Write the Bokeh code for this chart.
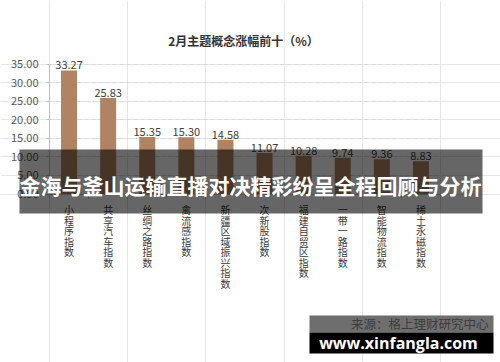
from bokeh.plotting import figure
from bokeh.models import (Range1d, FixedTicker, Label, BoxAnnotation, NumeralTickFormatter,
                          LinearAxis, Grid)
from bokeh.core.properties import value
from bokeh.embed import file_html
from bokeh.resources import INLINE
import numpy as np

title_text = "2月主题概念涨幅前十（%）"
categories = ["小程序指数", "共享汽车指数", "丝绸之路指数", "禽流感指数", "新疆区域振兴指数",
              "次新股指数", "福建自贸区指数", "一带一路指数", "智能物流指数", "稀土永磁指数"]
values = [33.27, 25.83, 15.35, 15.30, 14.58, 11.07, 10.28, 9.74, 9.36, 8.83]
y_ticks = [0, 5, 10, 15, 20, 25, 30, 35]
banner_text = "金海与釜山运输直播对决精彩纷呈全程回顾与分析"
source_text = "来源：格上理财研究中心"
site_text = "www.xinfangla.com"

CJK = "Noto Sans CJK SC"
W, H = 500, 362

# pixel placement of the plotting area inside the canvas
L, R, T, B = 49.0, 440.0, 63.5, 193.5
n = len(categories)
ymax = max(y_ticks)
xppu = (R - L) / n
yppu = (B - T) / ymax
x_range = Range1d(-L / xppu, n + (W - R) / xppu)
y_range = Range1d(-(H - B) / yppu, ymax + T / yppu)

p = figure(width=W, height=H, output_backend="svg", toolbar_location=None,
           x_range=x_range, y_range=y_range, min_border=0,
           x_axis_location=None, y_axis_location=None)
p.outline_line_color = None
p.background_fill_color = "white"
p.border_fill_color = "white"

# grid
grid_kw = dict(dimension=1, ticker=FixedTicker(ticks=y_ticks[1:]),
               grid_line_color="#d9d9d9", grid_line_dash="4 3")
if "cross_bounds" in Grid.properties():
    grid_kw["cross_bounds"] = (0, n - 0.08)
    p.add_layout(Grid(**grid_kw))
else:
    p.segment(x0=0, x1=n, y0=y_ticks[1:], y1=y_ticks[1:], line_color="#d9d9d9", line_dash="4 3")

xs = np.arange(n) + 0.5
labels_txt = ["%.2f" % v for v in values]
src = dict(x=xs, top=values, lab=labels_txt, cat=["\n".join(c) for c in categories],
           zero=[0] * n)
p.vbar(x="x", top="top", width=0.41, source=src, fill_color="#b08463", line_color=None)
p.text(x="x", y="top", text="lab", source=src, text_align="center", text_baseline="alphabetic",
       y_offset=-5, text_font=value(CJK), text_font_size="11px", text_color="#404040")

# y axis
yax = LinearAxis(fixed_location=0, bounds=(0, ymax))
yax.ticker = FixedTicker(ticks=y_ticks)
yax.formatter = NumeralTickFormatter(format="0.00")
yax.axis_line_color = "#bfbfbf"
yax.major_tick_line_color = "#bfbfbf"
yax.major_tick_out = 3
yax.major_tick_in = 0
yax.minor_tick_line_color = None
yax.major_label_standoff = 8
yax.major_label_text_font = CJK
yax.major_label_text_font_size = "11px"
yax.major_label_text_color = "#595959"
p.add_layout(yax, "left")

# x axis
xax = LinearAxis(fixed_location=0, bounds=(0, n))
xax.ticker = FixedTicker(ticks=list(range(0, n + 1)))
xax.major_label_overrides = {float(i): "" for i in range(0, n + 1)}
xax.axis_line_color = "#bfbfbf"
xax.major_tick_line_color = "#bfbfbf"
xax.major_tick_out = 4
xax.major_tick_in = 0
xax.minor_tick_line_color = None
p.add_layout(xax, "below")

# vertical category labels
p.text(x="x", y="zero", text="cat", source=src, text_align="center", text_baseline="top",
       y_offset=8, text_font=value(CJK), text_font_size="10px", text_color="#3a3a3a",
       text_line_height=0.7)

# title
p.add_layout(Label(x=243, y=40, x_units="canvas", y_units="canvas", text=title_text,
                   text_align="center", text_baseline="middle", text_font=CJK,
                   text_font_style="bold", text_font_size="12px", text_color="#333333"))

# banner overlay
p.add_layout(BoxAnnotation(left=19, right=482, top=149, bottom=213,
                           left_units="canvas", right_units="canvas",
                           top_units="canvas", bottom_units="canvas",
                           fill_color="black", fill_alpha=0.6, line_color=None, level="overlay"))
p.add_layout(Label(x=250, y=184, x_units="canvas", y_units="canvas", text=banner_text,
                   text_align="center", text_baseline="middle", text_font=CJK,
                   text_font_style="bold", text_font_size="21px", text_color="white", level="overlay"))

# watermark box
p.add_layout(BoxAnnotation(left=309, right=493, top=315, bottom=332,
                           left_units="canvas", right_units="canvas",
                           top_units="canvas", bottom_units="canvas",
                           fill_color="#6e6e6e", fill_alpha=1, line_color=None, level="overlay"))
p.add_layout(BoxAnnotation(left=309, right=493, top=332, bottom=353,
                           left_units="canvas", right_units="canvas",
                           top_units="canvas", bottom_units="canvas",
                           fill_color="black", fill_alpha=1, line_color=None, level="overlay"))
p.add_layout(Label(x=488, y=323, x_units="canvas", y_units="canvas", text=source_text,
                   text_align="right", text_baseline="middle", text_font=CJK,
                   text_font_size="12.5px", text_color="#3d3d3d", level="overlay"))
p.add_layout(Label(x=398, y=342, x_units="canvas", y_units="canvas", text=site_text,
                   text_align="center", text_baseline="alphabetic", text_font="Open Sans",
                   text_font_style="bold", text_font_size="16px", text_color="white", level="overlay"))

open("out.html", "w").write(file_html(p, INLINE))
